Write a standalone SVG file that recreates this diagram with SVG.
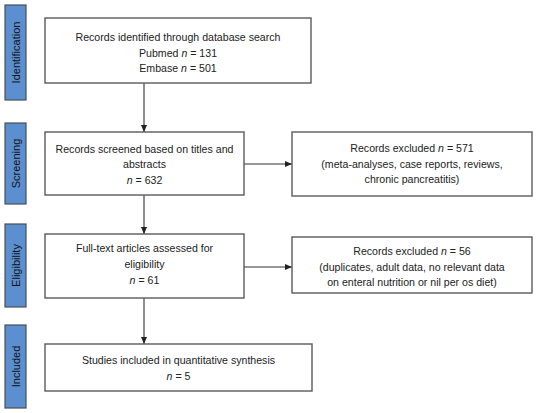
<svg xmlns="http://www.w3.org/2000/svg" width="539" height="413" viewBox="0 0 539 413">
<style>
.bar{fill:#5b8fcf;stroke:#4a4f57;stroke-width:1.2}
.box{fill:#fff;stroke:#5a5a5a;stroke-width:1.4}
.t{font-family:"Liberation Sans",Arial,sans-serif;font-size:10.6px;fill:#222;text-anchor:middle}
.s{font-family:"Liberation Sans",Arial,sans-serif;font-size:11px;fill:#111;text-anchor:middle}
.c{stroke:#333;stroke-width:1.1;fill:none}
.i{font-style:italic}
</style>
<defs>
<marker id="ah" markerWidth="8" markerHeight="8" refX="7" refY="4" orient="auto" markerUnits="userSpaceOnUse">
<path d="M0,1 L7,4 L0,7 Z" fill="#222"/>
</marker>
</defs>
<rect width="539" height="413" fill="#fff"/>
<g id="stage-identification"><rect class="bar" x="5" y="5" width="21" height="95"/><text class="s" transform="translate(19.5,52.5) rotate(-90)">Identification</text></g>
<g id="stage-screening"><rect class="bar" x="5" y="123" width="21" height="81"/><text class="s" transform="translate(19.5,163.5) rotate(-90)">Screening</text></g>
<g id="stage-eligibility"><rect class="bar" x="5" y="224" width="21" height="83"/><text class="s" transform="translate(19.5,265.5) rotate(-90)">Eligibility</text></g>
<g id="stage-included"><rect class="bar" x="5" y="325" width="21" height="83"/><text class="s" transform="translate(19.5,366.5) rotate(-90)">Included</text></g>
<g id="connectors">
<line class="c" x1="144" y1="83" x2="144" y2="132" marker-end="url(#ah)"/>
<line class="c" x1="144" y1="195" x2="144" y2="234" marker-end="url(#ah)"/>
<line class="c" x1="144" y1="298" x2="144" y2="344" marker-end="url(#ah)"/>
<line class="c" x1="244" y1="164" x2="292" y2="164" marker-end="url(#ah)"/>
<line class="c" x1="244" y1="267" x2="292" y2="267" marker-end="url(#ah)"/>
</g>
<g id="identified"><rect class="box" x="45" y="18" width="266" height="65"/>
<text class="t" x="178" y="41">Records identified through database search</text>
<text class="t" x="178" y="56.5">Pubmed <tspan class="i">n</tspan> = 131</text>
<text class="t" x="178" y="72">Embase <tspan class="i">n</tspan> = 501</text></g>
<g id="screened"><rect class="box" x="45" y="132" width="199" height="63"/>
<text class="t" x="144.5" y="153">Records screened based on titles and</text>
<text class="t" x="144.5" y="168">abstracts</text>
<text class="t" x="144.5" y="183.5"><tspan class="i">n</tspan> = 632</text></g>
<g id="excluded1"><rect class="box" x="292" y="132" width="240" height="64"/>
<text class="t" x="412" y="152">Records excluded <tspan class="i">n</tspan> = 571</text>
<text class="t" x="412" y="167.5">(meta-analyses, case reports, reviews,</text>
<text class="t" x="412" y="183">chronic pancreatitis)</text></g>
<g id="eligible"><rect class="box" x="45" y="234" width="199" height="64"/>
<text class="t" x="144.5" y="252">Full-text articles assessed for</text>
<text class="t" x="144.5" y="267.5">eligibility</text>
<text class="t" x="144.5" y="283.5"><tspan class="i">n</tspan> = 61</text></g>
<g id="excluded2"><rect class="box" x="292" y="237" width="240" height="56"/>
<text class="t" x="412" y="255">Records excluded <tspan class="i">n</tspan> = 56</text>
<text class="t" x="412" y="270.5">(duplicates, adult data, no relevant data</text>
<text class="t" x="412" y="286">on enteral nutrition or nil per os diet)</text></g>
<g id="included"><rect class="box" x="45" y="344" width="267" height="47"/>
<text class="t" x="178.5" y="364">Studies included in quantitative synthesis</text>
<text class="t" x="178.5" y="380"><tspan class="i">n</tspan> = 5</text></g>
</svg>
